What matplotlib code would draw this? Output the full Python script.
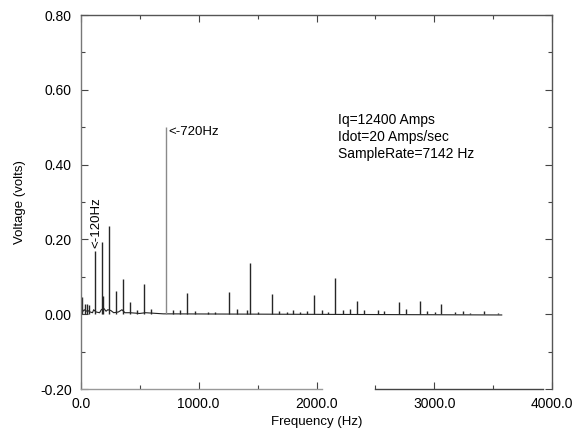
import matplotlib
matplotlib.use("Agg")
import matplotlib.pyplot as plt
from matplotlib.ticker import MultipleLocator, FormatStrFormatter

plt.rcParams['font.family'] = ['Liberation Sans', 'DejaVu Sans']

# ---- data ----
peak_freq = [14, 36, 53, 70, 120, 180, 186, 240, 300, 360, 420, 480, 540, 600, 720,
             780, 842, 900, 967, 1080, 1140, 1260, 1328, 1413, 1440, 1506, 1620, 1684,
             1747, 1803, 1860, 1917, 1980, 2044, 2100, 2160, 2227, 2284, 2340, 2403,
             2519, 2575, 2700, 2759, 2880, 2940, 3002, 3060, 3175, 3240, 3302, 3420, 3542]
peak_volt = [0.045, 0.027, 0.028, 0.025, 0.170, 0.192, 0.050, 0.237, 0.063, 0.094, 0.033,
             0.012, 0.080, 0.015, 0.500, 0.010, 0.010, 0.056, 0.008, 0.006, 0.006, 0.059,
             0.015, 0.010, 0.136, 0.005, 0.055, 0.008, 0.005, 0.010, 0.005, 0.008, 0.052,
             0.010, 0.005, 0.096, 0.012, 0.015, 0.035, 0.010, 0.012, 0.008, 0.034, 0.015,
             0.036, 0.008, 0.006, 0.027, 0.005, 0.008, 0.004, 0.008, 0.004]

base_freq = [0, 8, 20, 30, 45, 60, 80, 100, 110, 130, 160, 175, 195, 215, 230, 255,
             280, 320, 350, 375, 420, 500, 550, 700, 3571]
base_volt = [0.010, 0.012, 0.008, 0.012, 0.008, 0.010, 0.006, 0.004, 0.012, 0.006,
             0.004, 0.012, 0.016, 0.008, 0.012, 0.010, 0.004, 0.006, 0.012, 0.004,
             0.004, 0.002, 0.004, 0.001, -0.002]

x_ticks = [0, 1000, 2000, 3000, 4000]
y_ticks = [-0.20, 0.00, 0.20, 0.40, 0.60, 0.80]

info_lines = ["Iq=12400 Amps", "Idot=20 Amps/sec", "SampleRate=7142 Hz"]

# ---- figure ----
fig = plt.figure(figsize=(5.74, 4.29), dpi=100)
ax = fig.add_axes([0.1406, 0.0932, 0.9622 - 0.1406, 0.965 - 0.0932])

ax.plot(base_freq, base_volt, color='#222222', lw=0.8)
colors = ['#8a8a8a' if v >= 0.4 else '#262626' for v in peak_volt]
ax.vlines(peak_freq, 0, peak_volt, colors=colors, lw=1.0)

ax.set_xlim(0, 4000)
ax.set_ylim(-0.2, 0.8)
ax.set_xticks(x_ticks)
ax.set_yticks(y_ticks)
ax.xaxis.set_minor_locator(MultipleLocator(500))
ax.yaxis.set_minor_locator(MultipleLocator(0.1))
ax.xaxis.set_major_formatter(FormatStrFormatter('%.1f'))
ax.yaxis.set_major_formatter(FormatStrFormatter('%.2f'))
ax.tick_params(which='both', direction='in', top=True, right=True, colors='#444444',
               labelcolor='black', labelsize=10)
ax.tick_params(which='major', length=5, width=0.8)
ax.tick_params(which='minor', length=3, width=0.8)
ax.tick_params(axis='y', pad=6.5)
ax.tick_params(axis='x', pad=5.5)

for s in ax.spines.values():
    s.set_color('#555555')
    s.set_linewidth(1.0)
ax.spines['left'].set_color('#777777')
ax.spines['bottom'].set_color('#999999')
ax.spines['bottom'].set_bounds(0, 2044)
ax.plot([2500, 3925], [0, 0], transform=ax.get_xaxis_transform(), color='#444444',
        lw=1.0, clip_on=False)

ax.set_xlabel("Frequency (Hz)", fontsize=9.5, labelpad=4)
ax.set_ylabel("Voltage (volts)", fontsize=9.5, labelpad=10)

ax.text(745, 0.486, "<-720Hz", fontsize=9.5, ha='left', va='center')
ax.text(136, 0.178, "<-120Hz", fontsize=9.5, ha='center', va='bottom', rotation=90)

ax.text(2185, 0.474, "\n".join(info_lines), fontsize=10, ha='left', va='center',
        linespacing=1.27)

fig.savefig("out.png", dpi=100)
